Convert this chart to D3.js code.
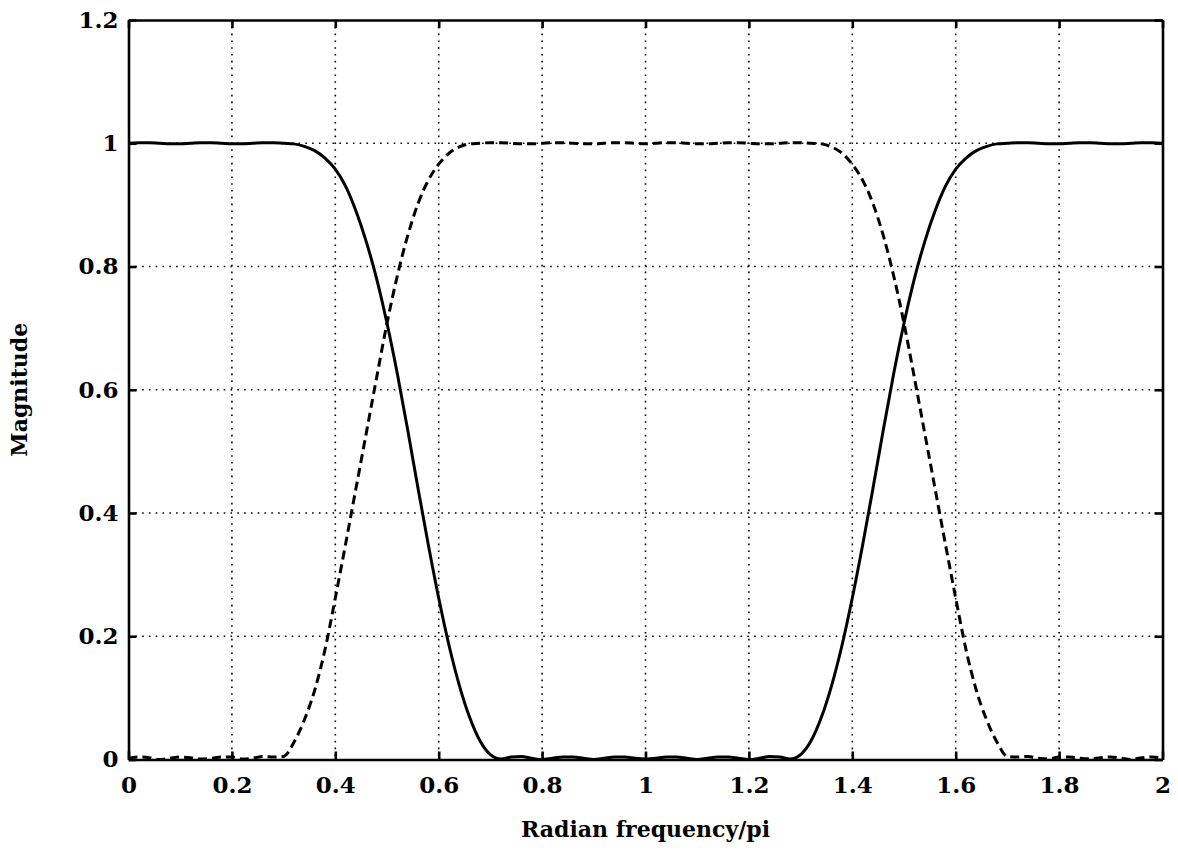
<!DOCTYPE html>
<html>
<head>
<meta charset="utf-8">
<script src="https://cdn.jsdelivr.net/npm/d3@7"></script>
<style>
  html, body { margin: 0; padding: 0; background: #fff; }
  svg { display: block; }
</style>
</head>
<body>
<svg id="chart" width="1178" height="868"></svg>
<script>
// ---- data ----
const freq = [
  0.00,0.02,0.04,0.06,0.08,0.10,0.12,0.14,0.16,0.18,
  0.20,0.22,0.24,0.26,0.28,0.30,0.32,0.34,0.36,0.38,
  0.40,0.42,0.44,0.46,0.48,0.50,0.52,0.54,0.56,0.58,
  0.60,0.62,0.64,0.66,0.68,0.70,0.72,0.74,0.76,0.78,
  0.80,0.82,0.84,0.86,0.88,0.90,0.92,0.94,0.96,0.98,
  1.00,
  1.02,1.04,1.06,1.08,1.10,1.12,1.14,1.16,1.18,1.20,
  1.22,1.24,1.26,1.28,1.30,1.32,1.34,1.36,1.38,1.40,
  1.42,1.44,1.46,1.48,1.50,1.52,1.54,1.56,1.58,1.60,
  1.62,1.64,1.66,1.68,1.70,1.72,1.74,1.76,1.78,1.80,
  1.82,1.84,1.86,1.88,1.90,1.92,1.94,1.96,1.98,2.00
];
// solid curve
const solidMag = [
  1.000,1.001,1.001,1.000,0.999,0.999,1.000,1.001,1.001,1.000,
  0.999,0.999,1.000,1.001,1.001,1.000,0.999,0.995,0.988,0.976,
  0.958,0.930,0.890,0.840,0.780,0.708,0.626,0.535,0.440,0.348,
  0.262,0.185,0.120,0.068,0.030,0.008,0.001,0.004,0.005,0.002,
  0.000,0.002,0.004,0.004,0.002,0.000,0.002,0.004,0.004,0.002,
  0.001,
  0.002,0.004,0.004,0.002,0.000,0.002,0.004,0.004,0.002,0.000,
  0.002,0.005,0.004,0.001,0.008,0.030,0.068,0.120,0.185,0.262,
  0.348,0.440,0.535,0.626,0.708,0.780,0.840,0.890,0.930,0.958,
  0.976,0.988,0.995,0.999,1.000,1.001,1.001,1.000,0.999,0.999,
  1.000,1.001,1.001,1.000,0.999,0.999,1.000,1.001,1.001,1.000
];
// dashed curve
const dashedMag = [
  0.002,0.004,0.003,0.000,0.002,0.004,0.003,0.001,0.002,0.004,
  0.004,0.001,0.002,0.005,0.004,0.005,0.028,0.064,0.112,0.178,
  0.262,0.350,0.440,0.530,0.620,0.708,0.785,0.850,0.902,0.940,
  0.966,0.984,0.994,0.999,1.000,1.001,1.001,1.000,0.999,0.999,
  1.000,1.001,1.001,1.000,0.999,0.999,1.000,1.001,1.001,1.000,
  0.999,
  1.000,1.001,1.001,1.000,0.999,0.999,1.000,1.001,1.001,1.000,
  0.999,0.999,1.000,1.001,1.001,1.000,0.999,0.994,0.984,0.966,
  0.940,0.902,0.850,0.785,0.708,0.620,0.530,0.440,0.350,0.262,
  0.178,0.112,0.064,0.028,0.005,0.004,0.005,0.002,0.001,0.004,
  0.004,0.002,0.001,0.003,0.004,0.002,0.000,0.003,0.004,0.002
];
const xTicks = [0,0.2,0.4,0.6,0.8,1,1.2,1.4,1.6,1.8,2];
const xTickLabels = ["0","0.2","0.4","0.6","0.8","1","1.2","1.4","1.6","1.8","2"];
const yTicks = [0,0.2,0.4,0.6,0.8,1,1.2];
const yTickLabels = ["0","0.2","0.4","0.6","0.8","1","1.2"];
const xLabel = "Radian frequency/pi";
const yLabel = "Magnitude";

// ---- layout ----
const svg = d3.select("#chart");
const L = 128.5, R = 1162.5, T = 20, B = 759.5;
const x = d3.scaleLinear().domain([0, 2]).range([L, R]);
const y = d3.scaleLinear().domain([0, 1.2]).range([B, T]);
const font = "'DejaVu Serif', 'Liberation Serif', serif";

// grid
const grid = svg.append("g").attr("stroke", "#000").attr("stroke-width", 1.6)
  .attr("stroke-dasharray", "1.6,5.2").attr("fill", "none");
grid.selectAll("line.v").data(xTicks.slice(1, -1)).enter().append("line")
  .attr("x1", d => x(d)).attr("x2", d => x(d)).attr("y1", T).attr("y2", B);
grid.selectAll("line.h").data(yTicks.slice(1, -1)).enter().append("line")
  .attr("y1", d => y(d)).attr("y2", d => y(d)).attr("x1", L).attr("x2", R);

// curves
const pts = (mag) => freq.map((f, i) => [f, mag[i]]);
const line = d3.line().x(d => x(d[0])).y(d => y(d[1])).curve(d3.curveMonotoneX);
svg.append("path").attr("d", line(pts(solidMag)))
  .attr("fill", "none").attr("stroke", "#000").attr("stroke-width", 3)
  .attr("stroke-linejoin", "round");
svg.append("path").attr("d", line(pts(dashedMag)))
  .attr("fill", "none").attr("stroke", "#000").attr("stroke-width", 3)
  .attr("stroke-dasharray", "9,5");

// axes
const fmtX = (d) => xTickLabels[xTicks.indexOf(d)];
const fmtY = (d) => yTickLabels[yTicks.indexOf(d)];
function styleAxis(g) {
  g.select(".domain").attr("stroke", "#000").attr("stroke-width", 2.6);
  g.selectAll(".tick line").attr("stroke", "#000").attr("stroke-width", 2.6);
  g.selectAll(".tick text").attr("fill", "#000")
    .attr("font-family", font).attr("font-weight", "bold").attr("font-size", 23);
}
svg.append("g").attr("transform", `translate(0,${B})`)
  .call(d3.axisBottom(x).tickValues(xTicks).tickFormat(fmtX).tickSize(-8).tickSizeOuter(0).tickPadding(17))
  .call(styleAxis);
svg.append("g").attr("transform", `translate(0,${T})`)
  .call(d3.axisTop(x).tickValues(xTicks).tickFormat("").tickSize(-8).tickSizeOuter(0))
  .call(styleAxis);
svg.append("g").attr("transform", `translate(${L},0)`)
  .call(d3.axisLeft(y).tickValues(yTicks).tickFormat(fmtY).tickSize(-8).tickSizeOuter(0).tickPadding(10))
  .call(styleAxis);
svg.append("g").attr("transform", `translate(${R},0)`)
  .call(d3.axisRight(y).tickValues(yTicks).tickFormat("").tickSize(-8).tickSizeOuter(0))
  .call(styleAxis);

// axis labels
svg.append("text").attr("x", (L + R) / 2).attr("y", 837)
  .attr("text-anchor", "middle").attr("font-family", font).attr("font-weight", "bold")
  .attr("font-size", 22).attr("fill", "#000").text(xLabel);
svg.append("text").attr("transform", `translate(27,${(T + B) / 2}) rotate(-90)`)
  .attr("text-anchor", "middle").attr("font-family", font).attr("font-weight", "bold")
  .attr("font-size", 22).attr("fill", "#000").text(yLabel);
</script>
</body>
</html>
